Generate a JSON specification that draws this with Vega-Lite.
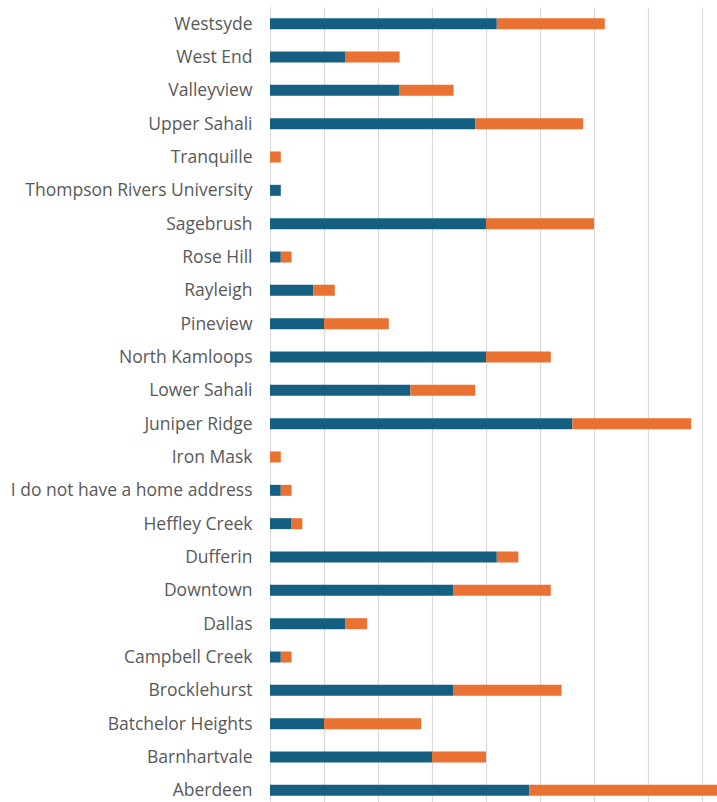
{
  "$schema": "https://vega.github.io/schema/vega-lite/v6.json",
  "autosize": "none",
  "width": 447,
  "height": 800,
  "padding": {"left": 270, "top": 7, "right": 0, "bottom": 0},
  "background": "white",
  "data": {"values": [
    {"area": "Westsyde", "series": "A", "value": 21}, {"area": "Westsyde", "series": "B", "value": 10},
    {"area": "West End", "series": "A", "value": 7}, {"area": "West End", "series": "B", "value": 5},
    {"area": "Valleyview", "series": "A", "value": 12}, {"area": "Valleyview", "series": "B", "value": 5},
    {"area": "Upper Sahali", "series": "A", "value": 19}, {"area": "Upper Sahali", "series": "B", "value": 10},
    {"area": "Tranquille", "series": "A", "value": 0}, {"area": "Tranquille", "series": "B", "value": 1},
    {"area": "Thompson Rivers University", "series": "A", "value": 1}, {"area": "Thompson Rivers University", "series": "B", "value": 0},
    {"area": "Sagebrush", "series": "A", "value": 20}, {"area": "Sagebrush", "series": "B", "value": 10},
    {"area": "Rose Hill", "series": "A", "value": 1}, {"area": "Rose Hill", "series": "B", "value": 1},
    {"area": "Rayleigh", "series": "A", "value": 4}, {"area": "Rayleigh", "series": "B", "value": 2},
    {"area": "Pineview", "series": "A", "value": 5}, {"area": "Pineview", "series": "B", "value": 6},
    {"area": "North Kamloops", "series": "A", "value": 20}, {"area": "North Kamloops", "series": "B", "value": 6},
    {"area": "Lower Sahali", "series": "A", "value": 13}, {"area": "Lower Sahali", "series": "B", "value": 6},
    {"area": "Juniper Ridge", "series": "A", "value": 28}, {"area": "Juniper Ridge", "series": "B", "value": 11},
    {"area": "Iron Mask", "series": "A", "value": 0}, {"area": "Iron Mask", "series": "B", "value": 1},
    {"area": "I do not have a home address", "series": "A", "value": 1}, {"area": "I do not have a home address", "series": "B", "value": 1},
    {"area": "Heffley Creek", "series": "A", "value": 2}, {"area": "Heffley Creek", "series": "B", "value": 1},
    {"area": "Dufferin", "series": "A", "value": 21}, {"area": "Dufferin", "series": "B", "value": 2},
    {"area": "Downtown", "series": "A", "value": 17}, {"area": "Downtown", "series": "B", "value": 9},
    {"area": "Dallas", "series": "A", "value": 7}, {"area": "Dallas", "series": "B", "value": 2},
    {"area": "Campbell Creek", "series": "A", "value": 1}, {"area": "Campbell Creek", "series": "B", "value": 1},
    {"area": "Brocklehurst", "series": "A", "value": 17}, {"area": "Brocklehurst", "series": "B", "value": 10},
    {"area": "Batchelor Heights", "series": "A", "value": 5}, {"area": "Batchelor Heights", "series": "B", "value": 9},
    {"area": "Barnhartvale", "series": "A", "value": 15}, {"area": "Barnhartvale", "series": "B", "value": 5},
    {"area": "Aberdeen", "series": "A", "value": 24}, {"area": "Aberdeen", "series": "B", "value": 20}
  ]},
  "mark": {"type": "bar", "clip": true},
  "encoding": {
    "y": {
      "field": "area", "type": "nominal", "sort": "descending",
      "scale": {"paddingInner": 0.67, "paddingOuter": 0.335},
      "axis": {"title": null, "ticks": false, "domainColor": "#d9d9d9", "labelFont": "Open Sans", "labelFontSize": 17.5, "labelColor": "#595959", "labelPadding": 18, "labelOffset": 1, "labelLimit": 300}
    },
    "x": {
      "field": "value", "type": "quantitative", "stack": "zero",
      "scale": {"domain": [0, 41.39], "nice": false},
      "axis": {"title": null, "labels": false, "ticks": false, "domain": false, "values": [0, 5, 10, 15, 20, 25, 30, 35, 40], "gridColor": "#d9d9d9", "gridWidth": 1.2}
    },
    "color": {"field": "series", "type": "nominal", "scale": {"domain": ["A", "B"], "range": ["#156082", "#E97132"]}, "legend": null},
    "order": {"field": "series", "sort": "ascending"}
  },
  "config": {"view": {"stroke": null}}
}
